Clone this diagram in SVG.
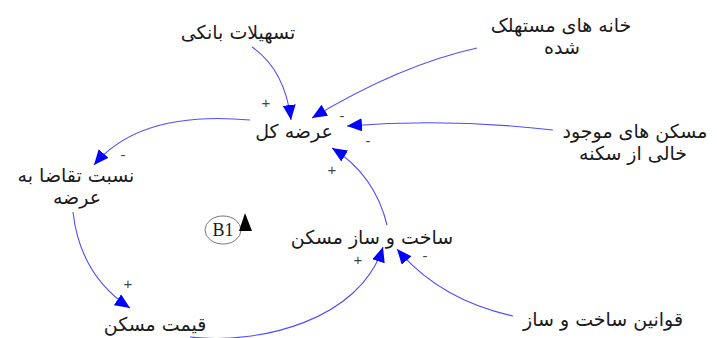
<svg xmlns="http://www.w3.org/2000/svg" width="717" height="338" viewBox="0 0 717 338">
<defs>
<marker id="ah" markerUnits="userSpaceOnUse" markerWidth="15" markerHeight="13" refX="15" refY="6.5" orient="auto" viewBox="0 0 15 13">
<path d="M0,0 L15,6.5 L0,13 z" fill="#0000ff"/>
</marker>
<style>
.lbl{font-family:"DejaVu Sans","Liberation Sans",sans-serif;font-size:19px;fill:#1a1a1a;text-anchor:middle}
.sg{font-family:"Liberation Sans",sans-serif;font-size:15px;fill:#444;text-anchor:middle}
.c{fill:none;stroke:#4d4dff;stroke-width:1.1;marker-end:url(#ah)}
</style>
</defs>
<rect width="717" height="338" fill="#ffffff"/>
<g id="connectors">
<path class="c" d="M 252 47 Q 285 70 291 120"/>
<path class="c" d="M 477 48 Q 400 65 312 118"/>
<path class="c" d="M 553 130 Q 450 118 347 126"/>
<path class="c" d="M 387 225 Q 375 175 332 148"/>
<path class="c" d="M 250 120 Q 140 110 94 165"/>
<path class="c" d="M 73 212 Q 80 275 130 308"/>
<path class="c" d="M 190 337 C 260 345 360 320 383 247"/>
<path class="c" d="M 513 316 Q 440 300 397 249"/>
<text class="sg" x="266" y="108">+</text>
<text class="sg" x="342" y="121">-</text>
<text class="sg" x="368" y="146">-</text>
<text class="sg" x="332" y="175">+</text>
<text class="sg" x="123" y="160">-</text>
<text class="sg" x="128" y="289">+</text>
<text class="sg" x="358" y="265">+</text>
<text class="sg" x="425" y="261">-</text>
</g>
<g id="n-tashilat"><text class="lbl" x="238" y="39">تسهیلات بانکی</text></g>
<g id="n-khane"><text class="lbl" x="561" y="32">خانه های مستهلک</text><text class="lbl" x="562" y="54">شده</text></g>
<g id="n-arze"><text class="lbl" x="294" y="138">عرضه کل</text></g>
<g id="n-maskan-khali"><text class="lbl" x="635" y="138">مسکن های موجود</text><text class="lbl" x="633" y="160">خالی از سکنه</text></g>
<g id="n-nesbat"><text class="lbl" x="76" y="182">نسبت تقاضا به</text><text class="lbl" x="77" y="204">عرضه</text></g>
<g id="n-sakht"><text class="lbl" x="372" y="244">ساخت و ساز مسکن</text></g>
<g id="n-gheymat"><text class="lbl" x="155" y="331">قیمت مسکن</text></g>
<g id="n-ghavanin"><text class="lbl" x="603" y="326">قوانین ساخت و ساز</text></g>
<g id="loop-b1">
<ellipse cx="223" cy="230" rx="18" ry="14" fill="none" stroke="#555" stroke-width="0.8"/>
<text x="223" y="236" font-family="Liberation Serif,serif" font-size="18" fill="#1a1a1a" text-anchor="middle">B1</text>
<path d="M245,213 L239,231 L252,231 z" fill="#000"/>
</g>
</svg>
